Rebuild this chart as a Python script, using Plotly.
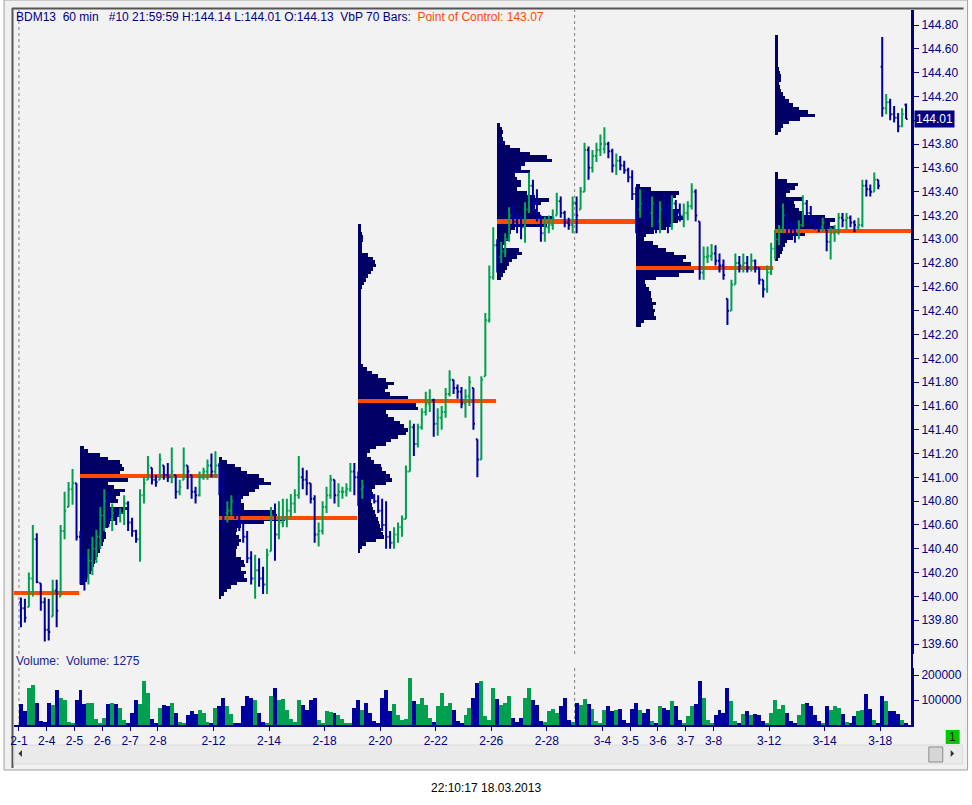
import plotly.graph_objects as go
from plotly.subplots import make_subplots

# Handelstage, je 7 Balken a 2 Stunden
days = ["2-1", "2-4", "2-5", "2-6", "2-7", "2-8", "2-11", "2-12", "2-13", "2-14",
        "2-15", "2-18", "2-19", "2-20", "2-21", "2-22", "2-25", "2-26", "2-27", "2-28",
        "3-1", "3-4", "3-5", "3-6", "3-7", "3-8", "3-11", "3-12", "3-13", "3-14",
        "3-15", "3-18"]
labeled_days = ["2-1", "2-4", "2-5", "2-6", "2-7", "2-8", "2-12", "2-14", "2-18", "2-20",
                "2-22", "2-26", "2-28", "3-4", "3-5", "3-6", "3-7", "3-8", "3-12", "3-14", "3-18"]

opens = [
    139.95, 139.90, 139.91, 140.15, 140.48, 140.11, 139.95,  # 2-1
    139.72, 139.83, 140.05, 140.00, 140.55, 140.75, 140.90,  # 2-4
    140.95, 140.50, 140.20, 140.15, 140.30, 140.40, 140.50,  # 2-5
    140.68, 140.80, 140.65, 140.70, 140.68, 140.70, 140.78,  # 2-6
    140.62, 140.55, 140.48, 140.85, 140.98, 141.08, 140.98,  # 2-7
    140.98, 141.10, 141.02, 141.00, 141.02, 140.88, 140.98,  # 2-8
    141.10, 141.02, 140.88, 140.85, 141.00, 141.05, 141.10,  # 2-11
    141.05, 141.10, 140.92, 140.70, 140.72, 140.80, 140.72,  # 2-12
    140.62, 140.50, 140.32, 140.15, 140.22, 140.15, 140.10,  # 2-13
    140.38, 140.68, 140.52, 140.62, 140.66, 140.72, 140.78,  # 2-14
    140.85, 141.00, 140.98, 140.95, 140.82, 140.52, 140.55,  # 2-15
    140.75, 140.85, 140.98, 140.85, 140.88, 140.88, 140.90,  # 2-18
    141.05, 141.00, 140.90, 140.92, 140.85, 140.84, 140.80,  # 2-19
    140.72, 140.60, 140.50, 140.45, 140.52, 140.58, 140.65,  # 2-20
    141.05, 141.42, 141.28, 141.42, 141.55, 141.62, 141.65,  # 2-21
    141.45, 141.50, 141.55, 141.70, 141.82, 141.75, 141.72,  # 2-22
    141.62, 141.68, 141.75, 141.32, 141.15, 141.85, 142.32,  # 2-25
    142.68, 142.95, 142.85, 142.90, 143.00, 143.20, 143.15,  # 2-26
    143.12, 143.10, 143.25, 143.45, 143.30, 143.20, 143.05,  # 2-27
    143.10, 143.12, 143.20, 143.32, 143.22, 143.14, 143.12,  # 2-28
    143.30, 143.25, 143.40, 143.75, 143.60, 143.70, 143.75,  # 3-1
    143.76, 143.80, 143.74, 143.62, 143.66, 143.62, 143.58,  # 3-4
    143.52, 143.38, 143.25, 143.30, 143.25, 143.22, 143.30,  # 3-5
    143.15, 143.25, 143.22, 143.12, 143.30, 143.22, 143.20,  # 3-6
    143.22, 143.28, 143.40, 143.15, 142.72, 142.85, 142.86,  # 3-7
    142.88, 142.82, 142.78, 142.50, 142.40, 142.62, 142.80,  # 3-8
    142.78, 142.80, 142.76, 142.82, 142.76, 142.66, 142.58,  # 3-11
    142.72, 142.92, 143.00, 143.08, 143.20, 143.12, 143.08,  # 3-12
    143.05, 143.12, 143.30, 143.22, 143.18, 143.12, 143.10,  # 3-13
    143.08, 142.98, 143.05, 143.06, 143.18, 143.16, 143.18,  # 3-14
    143.14, 143.10, 143.12, 143.45, 143.42, 143.40, 143.50,  # 3-15
    144.45, 144.10, 144.15, 144.05, 144.02, 143.95, 144.13,  # 3-18
]
highs = [
    139.99, 139.98, 140.20, 140.60, 140.53, 140.11, 139.99,
    139.98, 140.14, 140.14, 140.60, 140.88, 140.96, 141.07,
    140.95, 140.55, 140.35, 140.40, 140.50, 140.56, 140.75,
    140.90, 140.88, 140.78, 140.75, 140.74, 140.85, 140.80,
    140.66, 140.56, 140.90, 141.00, 141.18, 141.08, 141.02,
    141.20, 141.10, 141.12, 141.25, 141.02, 140.98, 141.25,
    141.10, 141.02, 140.92, 141.05, 141.08, 141.15, 141.20,
    141.22, 141.12, 141.06, 140.80, 140.85, 140.82, 140.85,
    140.62, 140.55, 140.38, 140.35, 140.32, 140.25, 140.40,
    140.75, 140.78, 140.80, 140.82, 140.82, 140.86, 140.90,
    141.18, 141.08, 141.06, 140.95, 140.85, 140.62, 140.80,
    140.92, 141.02, 140.98, 140.95, 140.92, 140.95, 141.12,
    141.12, 141.05, 140.98, 140.95, 140.88, 140.86, 140.85,
    140.82, 140.80, 140.55, 140.58, 140.62, 140.68, 141.10,
    141.48, 141.45, 141.45, 141.58, 141.72, 141.74, 141.66,
    141.58, 141.60, 141.75, 141.90, 141.82, 141.78, 141.76,
    141.74, 141.85, 141.75, 141.32, 141.85, 142.38, 142.78,
    143.10, 143.00, 142.98, 143.05, 143.27, 143.30, 143.22,
    143.20, 143.31, 143.56, 143.50, 143.42, 143.20, 143.19,
    143.20, 143.25, 143.39, 143.36, 143.24, 143.18, 143.36,
    143.36, 143.44, 143.81, 143.78, 143.75, 143.81, 143.88,
    143.94, 143.82, 143.76, 143.72, 143.70, 143.66, 143.60,
    143.58, 143.44, 143.42, 143.42, 143.40, 143.36, 143.30,
    143.32, 143.38, 143.30, 143.37, 143.33, 143.30, 143.30,
    143.32, 143.47, 143.42, 143.15, 142.94, 142.94, 142.96,
    142.95, 142.88, 142.83, 142.50, 142.66, 142.88, 142.86,
    142.88, 142.86, 142.88, 142.83, 142.76, 142.66, 142.78,
    142.97, 143.08, 143.12, 143.30, 143.22, 143.14, 143.16,
    143.16, 143.37, 143.33, 143.28, 143.18, 143.16, 143.18,
    143.08, 143.10, 143.12, 143.22, 143.22, 143.22, 143.20,
    143.16, 143.18, 143.50, 143.50, 143.46, 143.56, 143.50,
    144.70, 144.22, 144.18, 144.12, 144.06, 144.10, 144.14,
]
lows = [
    139.74, 139.78, 139.91, 140.00, 140.11, 139.88, 139.62,
    139.63, 139.83, 139.74, 140.00, 140.48, 140.75, 140.77,
    140.47, 140.10, 140.05, 140.10, 140.18, 140.28, 140.40,
    140.55, 140.58, 140.55, 140.60, 140.62, 140.60, 140.55,
    140.50, 140.45, 140.29, 140.78, 140.98, 140.94, 140.92,
    140.98, 140.98, 140.96, 140.95, 140.82, 140.85, 140.98,
    140.90, 140.82, 140.78, 140.84, 140.98, 140.98, 141.00,
    141.00, 140.85, 140.56, 140.62, 140.68, 140.65, 140.55,
    140.45, 140.28, 140.10, 139.98, 140.08, 140.02, 140.02,
    140.38, 140.30, 140.48, 140.58, 140.58, 140.66, 140.70,
    140.82, 140.90, 140.85, 140.78, 140.45, 140.42, 140.52,
    140.70, 140.82, 140.78, 140.75, 140.82, 140.84, 140.88,
    140.85, 140.76, 140.82, 140.80, 140.80, 140.78, 140.70,
    140.55, 140.40, 140.40, 140.40, 140.45, 140.50, 140.65,
    141.05, 141.18, 141.25, 141.40, 141.52, 141.55, 141.34,
    141.35, 141.40, 141.50, 141.68, 141.70, 141.66, 141.58,
    141.50, 141.60, 141.40, 141.00, 141.15, 141.85, 142.30,
    142.66, 142.72, 142.80, 142.85, 142.98, 143.10, 143.05,
    143.00, 142.97, 143.22, 143.25, 143.15, 142.98, 142.98,
    143.05, 143.08, 143.20, 143.18, 143.10, 143.08, 143.05,
    143.05, 143.25, 143.40, 143.50, 143.56, 143.65, 143.70,
    143.72, 143.68, 143.56, 143.54, 143.58, 143.55, 143.48,
    143.33, 143.05, 143.18, 143.12, 143.15, 143.10, 143.05,
    143.05, 143.18, 143.05, 143.08, 143.18, 143.15, 143.10,
    143.16, 143.25, 143.15, 142.66, 142.66, 142.80, 142.82,
    142.78, 142.72, 142.66, 142.28, 142.40, 142.62, 142.72,
    142.72, 142.72, 142.73, 142.72, 142.62, 142.51, 142.55,
    142.70, 142.83, 142.95, 143.05, 143.05, 143.04, 142.97,
    143.00, 143.10, 143.15, 143.12, 143.08, 143.06, 143.06,
    142.90, 142.83, 142.98, 143.04, 143.10, 143.08, 143.10,
    143.06, 143.08, 143.10, 143.36, 143.36, 143.40, 143.42,
    144.03, 144.05, 144.00, 143.98, 143.90, 143.94, 144.01,
]
closes = [
    139.90, 139.82, 140.15, 140.48, 140.12, 139.95, 139.72,
    139.70, 140.05, 139.88, 140.55, 140.72, 140.90, 140.95,
    140.50, 140.20, 140.15, 140.30, 140.40, 140.50, 140.68,
    140.80, 140.65, 140.70, 140.68, 140.70, 140.78, 140.62,
    140.55, 140.48, 140.85, 140.95, 141.10, 140.98, 140.96,
    141.15, 141.02, 141.00, 141.05, 140.88, 140.92, 141.10,
    141.05, 140.88, 140.85, 141.00, 141.05, 141.10, 141.05,
    141.10, 140.92, 140.70, 140.72, 140.80, 140.72, 140.62,
    140.50, 140.32, 140.15, 140.22, 140.15, 140.10, 140.35,
    140.68, 140.52, 140.62, 140.66, 140.72, 140.78, 140.85,
    141.00, 140.98, 140.95, 140.82, 140.52, 140.55, 140.75,
    140.85, 140.98, 140.85, 140.88, 140.88, 140.90, 141.05,
    141.00, 140.90, 140.92, 140.85, 140.84, 140.80, 140.72,
    140.60, 140.50, 140.45, 140.52, 140.58, 140.65, 141.05,
    141.42, 141.28, 141.42, 141.55, 141.62, 141.65, 141.45,
    141.50, 141.55, 141.70, 141.82, 141.75, 141.72, 141.62,
    141.68, 141.80, 141.45, 141.15, 141.82, 142.32, 142.68,
    142.95, 142.85, 142.90, 143.00, 143.20, 143.15, 143.12,
    143.10, 143.25, 143.45, 143.30, 143.20, 143.05, 143.10,
    143.12, 143.18, 143.32, 143.22, 143.14, 143.12, 143.30,
    143.20, 143.40, 143.75, 143.60, 143.70, 143.75, 143.80,
    143.80, 143.74, 143.62, 143.66, 143.62, 143.58, 143.52,
    143.38, 143.25, 143.30, 143.25, 143.22, 143.30, 143.15,
    143.25, 143.22, 143.12, 143.30, 143.22, 143.20, 143.22,
    143.28, 143.40, 143.20, 142.72, 142.85, 142.86, 142.88,
    142.82, 142.78, 142.70, 142.40, 142.62, 142.80, 142.78,
    142.80, 142.76, 142.82, 142.76, 142.66, 142.58, 142.72,
    142.92, 143.00, 143.08, 143.20, 143.12, 143.08, 143.05,
    143.12, 143.30, 143.22, 143.18, 143.12, 143.10, 143.14,
    142.98, 143.05, 143.06, 143.18, 143.16, 143.18, 143.14,
    143.12, 143.12, 143.45, 143.42, 143.40, 143.50, 143.45,
    144.10, 144.15, 144.05, 144.02, 143.95, 144.05, 144.01,
]
# Volumen in Tausend Kontrakten
volume_k = [
    84, 55, 150, 160, 90, 15, 12,
    90, 80, 140, 110, 100, 12, 10,
    100, 140, 85, 90, 90, 25, 10,
    30, 85, 90, 85, 70, 20, 10,
    50, 100, 85, 175, 130, 25, 10,
    70, 80, 75, 90, 50, 12, 10,
    40, 55, 45, 60, 50, 12, 10,
    70, 75, 110, 75, 45, 10, 10,
    75, 115, 110, 100, 50, 12, 10,
    115, 150, 100, 105, 60, 25, 12,
    100, 80, 60, 100, 110, 20, 10,
    55, 53, 48, 40, 25, 10, 8,
    70, 100, 60, 90, 50, 15, 10,
    110, 140, 55, 85, 40, 20, 25,
    190, 95, 85, 110, 80, 30, 12,
    75, 130, 75, 90, 60, 15, 10,
    40, 68, 110, 170, 175, 35, 20,
    150, 105, 80, 90, 115, 30, 12,
    30, 110, 150, 100, 80, 15, 12,
    55, 65, 50, 75, 110, 20, 13,
    87, 80, 105, 85, 65, 15, 8,
    60, 75, 55, 60, 65, 20, 8,
    65, 90, 60, 50, 65, 15, 8,
    75, 70, 60, 95, 75, 20, 8,
    35, 75, 85, 175, 110, 20, 10,
    40, 60, 50, 150, 95, 15, 10,
    45, 55, 40, 45, 40, 15, 8,
    50, 100, 65, 80, 50, 15, 8,
    40, 85, 90, 75, 40, 15, 8,
    75, 60, 75, 70, 45, 12, 8,
    35, 55, 60, 125, 65, 20, 10,
    115, 95, 55, 55, 45, 20, 8,
]

# Volume by Price (70 Stundenbalken je Periode), Stufen von 0.03
vp_segment = [1, 2, 3, 4, 5, 6, 6]
vp_top = [141.25, 141.16, 143.11, 143.96, 143.45, 144.70, 143.55]
vp_volume = [
    [4, 8, 20, 28, 40, 42, 44, 40, 66, 48, 28, 34, 45, 40, 36, 38, 30, 48, 44, 40,
     36, 30, 28, 25, 26, 26, 24, 23, 21, 20, 18, 16, 15, 14, 12, 11, 9, 7, 4],
    [3, 8, 16, 22, 28, 40, 45, 52, 40, 36, 30, 24, 22, 25, 25, 55, 58, 66, 45, 22,
     18, 17, 20, 22, 20, 18, 17, 17, 22, 25, 26, 22, 27, 25, 28, 18, 12, 8, 5, 2],
    [3, 3, 4, 5, 5, 4, 4, 4, 10, 15, 17, 18, 15, 13, 10, 8, 6, 4, 3, 3,
     3, 3, 3, 3, 3, 3, 3, 3, 3, 3, 3, 3, 3, 3, 3, 3, 3, 3, 3, 5,
     9, 14, 20, 28, 36, 30, 27, 32, 50, 66, 58, 60, 28, 30, 36, 42, 46, 50, 48, 40,
     33, 28, 18, 12, 9, 13, 16, 23, 24, 28, 32, 34, 28, 17, 14, 15, 15, 13, 14, 15,
     17, 18, 20, 21, 22, 23, 25, 26, 18, 8, 4, 2],
    [3, 5, 6, 5, 6, 8, 13, 23, 33, 50, 55, 28, 24, 33, 18, 20, 24, 24, 20, 30,
     38, 52, 44, 38, 40, 43, 55, 61, 50, 18, 14, 13, 12, 8, 6, 22, 25, 20, 15, 12,
     10, 8, 6, 4],
    [4, 15, 43, 40, 37, 36, 35, 44, 42, 47, 42, 35, 30, 18, 10, 8, 17, 22, 30, 38,
     50, 47, 55, 63, 58, 43, 20, 9, 10, 13, 15, 15, 16, 20, 17, 19, 18, 20, 8, 5],
    [3, 3, 3, 3, 3, 3, 3, 3, 3, 4, 5, 6, 6, 4, 5, 6, 8, 10, 14, 18,
     24, 33, 40, 25, 14, 8, 6, 3],
    [3, 3, 12, 23, 20, 15, 11, 28, 19, 20, 24, 29, 50, 60, 55, 60, 66, 30, 18, 12,
     10, 8, 7, 5, 3],
]
poc_price = [140.03, 141.01, 140.66, 141.64, 143.15, 142.76, 143.07]

price_ticks = [139.60, 139.80, 140.00, 140.20, 140.40, 140.60, 140.80, 141.00, 141.20,
               141.40, 141.60, 141.80, 142.00, 142.20, 142.40, 142.60, 142.80, 143.00,
               143.20, 143.40, 143.60, 143.80, 144.00, 144.20, 144.40, 144.60, 144.80]
volume_ticks = [100000, 200000]
last_price = 144.01

NAVY = "#000080"
GREEN = "#00A050"
BLUE = "#0000A0"
PROFILE = "#000066"
POC = "#FF4A00"
BG = "#F2F2F2"
FONT = "Liberation Sans, Arial, sans-serif"

bars_per_day = 7
hours_per_bar = 2
vbp_bars = 70
first_period = 31
vp_step = 0.03
hours_per_k = 0.5

bar_x = [14 * (i // bars_per_day) + hours_per_bar * (i % bars_per_day) + 1 for i in range(len(closes))]
vol_colors = [GREEN if c >= o else BLUE for o, c in zip(opens, closes)]
day_hour = {d: 14 * i for i, d in enumerate(days)}
month_starts = [14 * i for i, d in enumerate(days) if i == 0 or d.split("-")[0] != days[i - 1].split("-")[0]]
# Beschriftung, die vom Kursfeld verdeckt wird, weglassen
price_labels = ["" if abs(v - last_price) < 0.1 else f"{v:.2f}" for v in price_ticks]


# Pixel -> Papier (Plotbereich x 10..915, y 10..725)
def px(x):
    return (x - 10) / 905


def py(y):
    return (725 - y) / 715


fig = make_subplots(rows=2, cols=1, shared_xaxes=True, vertical_spacing=0.02)

# Profile
for seg, top, vols in zip(vp_segment, vp_top, vp_volume):
    start = first_period + vbp_bars * (seg - 1)
    levels = [round(top - vp_step * i, 2) for i in range(len(vols))]
    fig.add_trace(go.Bar(y=levels, x=[v * hours_per_k for v in vols], base=start,
                         orientation="h", width=vp_step, marker=dict(color=PROFILE, line_width=0),
                         opacity=1, hoverinfo="skip"), row=1, col=1)

# Point of Control
poc_start = [first_period + vbp_bars * (i - 1) for i in range(len(poc_price))]
fig.add_trace(go.Bar(y=poc_price, x=[vbp_bars - 0.8] * len(poc_price), base=poc_start,
                     orientation="h", width=0.036, marker=dict(color=POC, line_width=0),
                     opacity=1, hoverinfo="skip"), row=1, col=1)

# Kurse
fig.add_trace(go.Ohlc(x=bar_x, open=opens, high=highs, low=lows, close=closes,
                      increasing=dict(line=dict(color=GREEN, width=2)),
                      decreasing=dict(line=dict(color=BLUE, width=2)),
                      tickwidth=0.4, hoverinfo="skip"), row=1, col=1)

# Volumen
fig.add_trace(go.Bar(x=bar_x, y=[v * 1000 for v in volume_k], width=hours_per_bar,
                     marker=dict(color=vol_colors, line_width=0), opacity=1,
                     hoverinfo="skip"), row=2, col=1)

axis_font = dict(family=FONT, size=12, color=NAVY)

fig.update_xaxes(range=[-2.5, 450], showgrid=False, zeroline=False, rangeslider_visible=False)
fig.update_xaxes(showticklabels=False, ticks="", showline=False, row=1, col=1)
fig.update_xaxes(tickvals=[day_hour[d] for d in labeled_days], ticktext=labeled_days,
                 ticks="outside", ticklen=4, tickcolor=NAVY, tickwidth=1,
                 showline=True, linecolor=NAVY, linewidth=2, tickfont=axis_font,
                 row=2, col=1)
fig.update_yaxes(side="right", showgrid=False, zeroline=False, ticks="outside", ticklen=5,
                 tickcolor=NAVY, tickwidth=1, showline=True, linecolor=NAVY, linewidth=2,
                 tickfont=axis_font)
fig.update_yaxes(domain=[py(654), 1], range=[139.516, 144.926], tickvals=price_ticks,
                 ticktext=price_labels, row=1, col=1)
fig.update_yaxes(domain=[0, py(668)], range=[0, 228000], tickvals=volume_ticks,
                 ticktext=[str(v) for v in volume_ticks], row=2, col=1)

shapes = [
    # Fensterrahmen
    dict(type="rect", xref="paper", yref="paper", x0=px(0), x1=px(971), y0=py(770), y1=py(0),
         fillcolor="#F0F0F0", line=dict(color="#A0A0A0", width=1), layer="below"),
    dict(type="rect", xref="paper", yref="paper", x0=px(9), x1=px(967), y0=py(768), y1=py(9),
         fillcolor=BG, line=dict(width=0), layer="below"),
    dict(type="line", xref="paper", yref="paper", x0=px(8), x1=px(967), y0=py(8.5), y1=py(8.5),
         line=dict(color="#555555", width=2), layer="below"),
    dict(type="line", xref="paper", yref="paper", x0=px(8.5), x1=px(8.5), y0=py(768), y1=py(8),
         line=dict(color="#555555", width=2), layer="below"),
    # Scrollbar
    dict(type="rect", xref="paper", yref="paper", x0=px(10), x1=px(966), y0=py(764), y1=py(745),
         fillcolor="#EAEAEA", line=dict(color="#DCDCDC", width=1), layer="below"),
    dict(type="rect", xref="paper", yref="paper", x0=px(932), x1=px(946), y0=py(762), y1=py(747),
         fillcolor="#D6D6D6", line=dict(color="#8C8C8C", width=1), layer="above"),
    dict(type="path", xref="paper", yref="paper", layer="above",
         path=f"M {px(18)} {py(750)} L {px(18)} {py(757)} L {px(14.5)} {py(753.5)} Z",
         fillcolor="#333333", line=dict(width=0)),
    dict(type="path", xref="paper", yref="paper", layer="above",
         path=f"M {px(954)} {py(750)} L {px(954)} {py(757)} L {px(957.5)} {py(753.5)} Z",
         fillcolor="#333333", line=dict(width=0)),
    # gruenes Feld
    dict(type="rect", xref="paper", yref="paper", x0=px(949), x1=px(963), y0=py(744), y1=py(730),
         fillcolor="#00C800", line=dict(width=0), layer="above"),
    # durchgehende Preisachse
    dict(type="line", xref="paper", yref="paper", x0=1, x1=1, y0=0, y1=1,
         line=dict(color=NAVY, width=2), layer="above"),
]
for h in month_starts:
    shapes.append(dict(type="line", xref="x", yref="paper", x0=h, x1=h, y0=py(654), y1=1,
                       line=dict(color="#808080", width=1, dash="dot"), layer="below"))
    shapes.append(dict(type="line", xref="x", yref="paper", x0=h, x1=h, y0=0, y1=py(668),
                       line=dict(color="#808080", width=1, dash="dot"), layer="below"))

nb = "\u00a0"
header = (f"BDM13{nb}{nb}60 min{nb}{nb}{nb}#10 21:59:59 H:144.14 L:144.01 O:144.13{nb}{nb}"
          f"VbP 70 Bars:{nb}{nb}<span style='color:{POC}'>Point of Control: 143.07</span>")

annotations = [
    dict(xref="paper", yref="paper", x=px(10), y=py(17), text=header, showarrow=False,
         xanchor="left", yanchor="middle", font=dict(family=FONT, size=12, color=NAVY)),
    dict(xref="paper", yref="paper", x=px(10), y=py(661), text=f"Volume:{nb}{nb}Volume: 1275",
         showarrow=False, xanchor="left", yanchor="middle",
         font=dict(family=FONT, size=12, color="#202090")),
    dict(xref="paper", yref="y", x=px(917), y=last_price, text=f"{last_price:.2f}", showarrow=False,
         xanchor="left", yanchor="middle", bgcolor=NAVY, borderpad=1,
         font=dict(family=FONT, size=12, color="white")),
    dict(xref="paper", yref="paper", x=px(956), y=py(737), text="1", showarrow=False,
         xanchor="center", yanchor="middle", font=dict(family=FONT, size=12, color="#102010")),
    dict(xref="paper", yref="paper", x=px(486), y=py(788), text="22:10:17 18.03.2013",
         showarrow=False, xanchor="center", yanchor="middle",
         font=dict(family=FONT, size=12, color="black")),
]

fig.update_layout(
    width=972, height=805,
    margin=dict(l=10, r=57, t=10, b=80),
    paper_bgcolor="white", plot_bgcolor="rgba(0,0,0,0)",
    barmode="overlay", bargap=0, showlegend=False,
    shapes=shapes, annotations=annotations,
)

# Seitenrand des Browsers entfernen, damit die Figur bei (0,0) beginnt
fig.write_html("out.html", config={"displayModeBar": False},
               post_script="document.body.style.margin='0';")
